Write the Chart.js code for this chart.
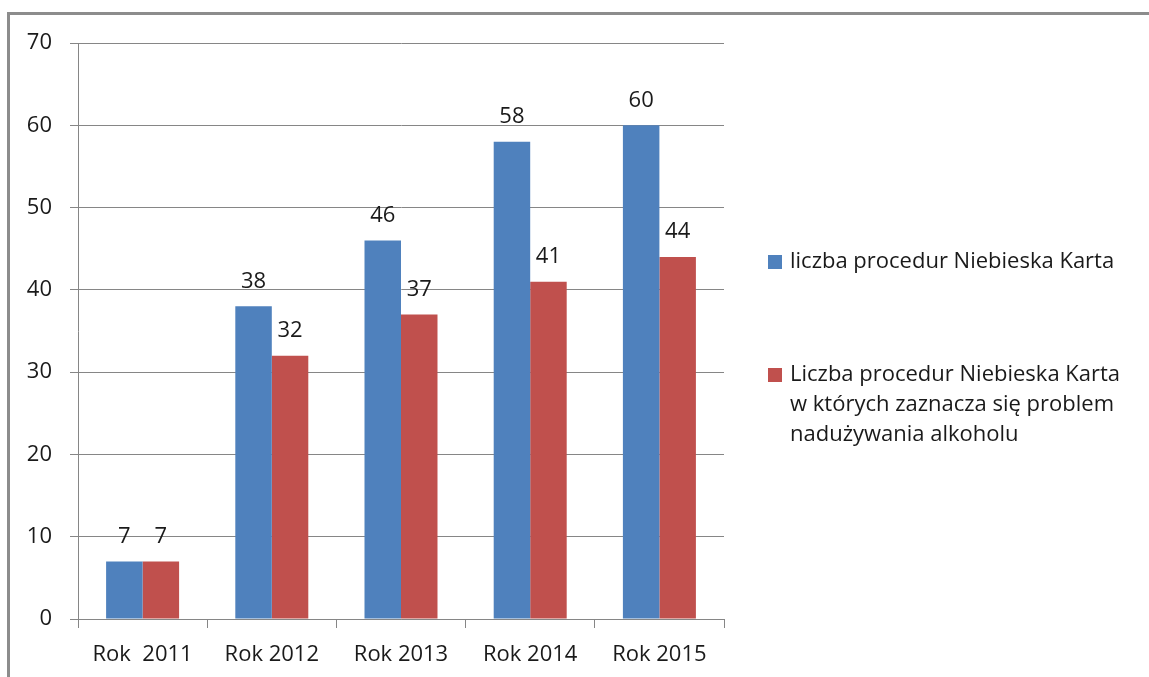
<!DOCTYPE html>
<html>
<head>
<meta charset="utf-8">
<script src="https://cdn.jsdelivr.net/npm/chart.js@4.4.0/dist/chart.umd.min.js"></script>
<style>
html, body { margin: 0; background: #fff; }
#wrap { position: relative; width: 1149px; height: 677px; }
</style>
</head>
<body>
<div id="wrap"><canvas id="chart_niebieskaKarta"></canvas></div>
<script>
// data
var categories = ['Rok  2011', 'Rok 2012', 'Rok 2013', 'Rok 2014', 'Rok 2015'];
var proceduryNK = [7, 38, 46, 58, 60];
var proceduryAlkohol = [7, 32, 37, 41, 44];
var seriesLabels = [
    ['liczba procedur Niebieska Karta'],
    ['Liczba procedur Niebieska Karta', 'w których zaznacza się problem', 'nadużywania alkoholu']
];
var seriesColors = ['#4F81BD', '#C0504D'];

var FONT = '"Open Sans"';
var TEXT = '#1a1a1a';
var GRID = '#868686';

var chart_niebieskaKarta = new Chart(document.getElementById('chart_niebieskaKarta'), {
    type: 'bar',
    data: {
        labels: categories,
        datasets: [
            {
                label: seriesLabels[0].join(' '),
                data: proceduryNK,
                backgroundColor: seriesColors[0],
                categoryPercentage: 0.565,
                barPercentage: 1
            },
            {
                label: seriesLabels[1].join(' '),
                data: proceduryAlkohol,
                backgroundColor: seriesColors[1],
                categoryPercentage: 0.565,
                barPercentage: 1
            }
        ]
    },
    options: {
        animation: false,
        responsive: true,
        maintainAspectRatio: false,
        layout: {
            padding: { left: 0, top: 43, right: 425, bottom: 0 }
        },
        plugins: {
            legend: { display: false },
            title: { display: false },
            tooltip: { enabled: false }
        },
        scales: {
            x: {
                offset: true,
                afterFit: function (scale) { scale.height = 58; },
                grid: {
                    offset: true,
                    drawOnChartArea: false,
                    drawTicks: true,
                    tickLength: 9,
                    color: GRID
                },
                border: { display: true, color: GRID },
                ticks: {
                    font: { family: FONT, size: 22 },
                    color: TEXT,
                    padding: 14
                }
            },
            y: {
                min: 0,
                max: 70,
                afterFit: function (scale) { scale.width = 78; },
                grid: {
                    color: GRID,
                    tickLength: 8
                },
                border: { display: true, color: GRID },
                ticks: {
                    stepSize: 10,
                    font: { family: FONT, size: 22 },
                    color: TEXT,
                    padding: 18
                }
            }
        }
    },
    plugins: [
        {
            id: 'background',
            beforeDraw: (chart) => {
                const ctx = chart.ctx;
                ctx.save();
                ctx.fillStyle = 'white';
                ctx.fillRect(0, 0, chart.width, chart.height);
                // page frame around the chart
                ctx.strokeStyle = '#8c8c8c';
                ctx.lineWidth = 3;
                ctx.beginPath();
                ctx.moveTo(8.5, chart.height);
                ctx.lineTo(8.5, 13.5);
                ctx.lineTo(chart.width, 13.5);
                ctx.stroke();
                ctx.restore();
            }
        },
        {
            id: 'valueLabels',
            afterDatasetsDraw: (chart) => {
                const ctx = chart.ctx;
                ctx.save();
                ctx.font = '22px ' + FONT;
                ctx.fillStyle = TEXT;
                ctx.textAlign = 'center';
                ctx.textBaseline = 'middle';
                chart.data.datasets.forEach((ds, i) => {
                    chart.getDatasetMeta(i).data.forEach((bar, j) => {
                        ctx.fillText(String(ds.data[j]), bar.x, bar.y - 25);
                    });
                });
                ctx.restore();
            }
        },
        {
            id: 'sideLegend',
            afterDraw: (chart) => {
                const ctx = chart.ctx;
                const x0 = chart.chartArea.right + 44;
                const starts = [262, 375];
                const lineH = 30;
                ctx.save();
                ctx.font = '22px ' + FONT;
                ctx.textBaseline = 'middle';
                ctx.textAlign = 'left';
                seriesLabels.forEach((lines, i) => {
                    ctx.fillStyle = seriesColors[i];
                    ctx.fillRect(x0, starts[i] - 7, 14, 14);
                    ctx.fillStyle = TEXT;
                    lines.forEach((t, k) => {
                        ctx.fillText(t, x0 + 22, starts[i] + k * lineH);
                    });
                });
                ctx.restore();
            }
        }
    ]
});
</script>
</body>
</html>
